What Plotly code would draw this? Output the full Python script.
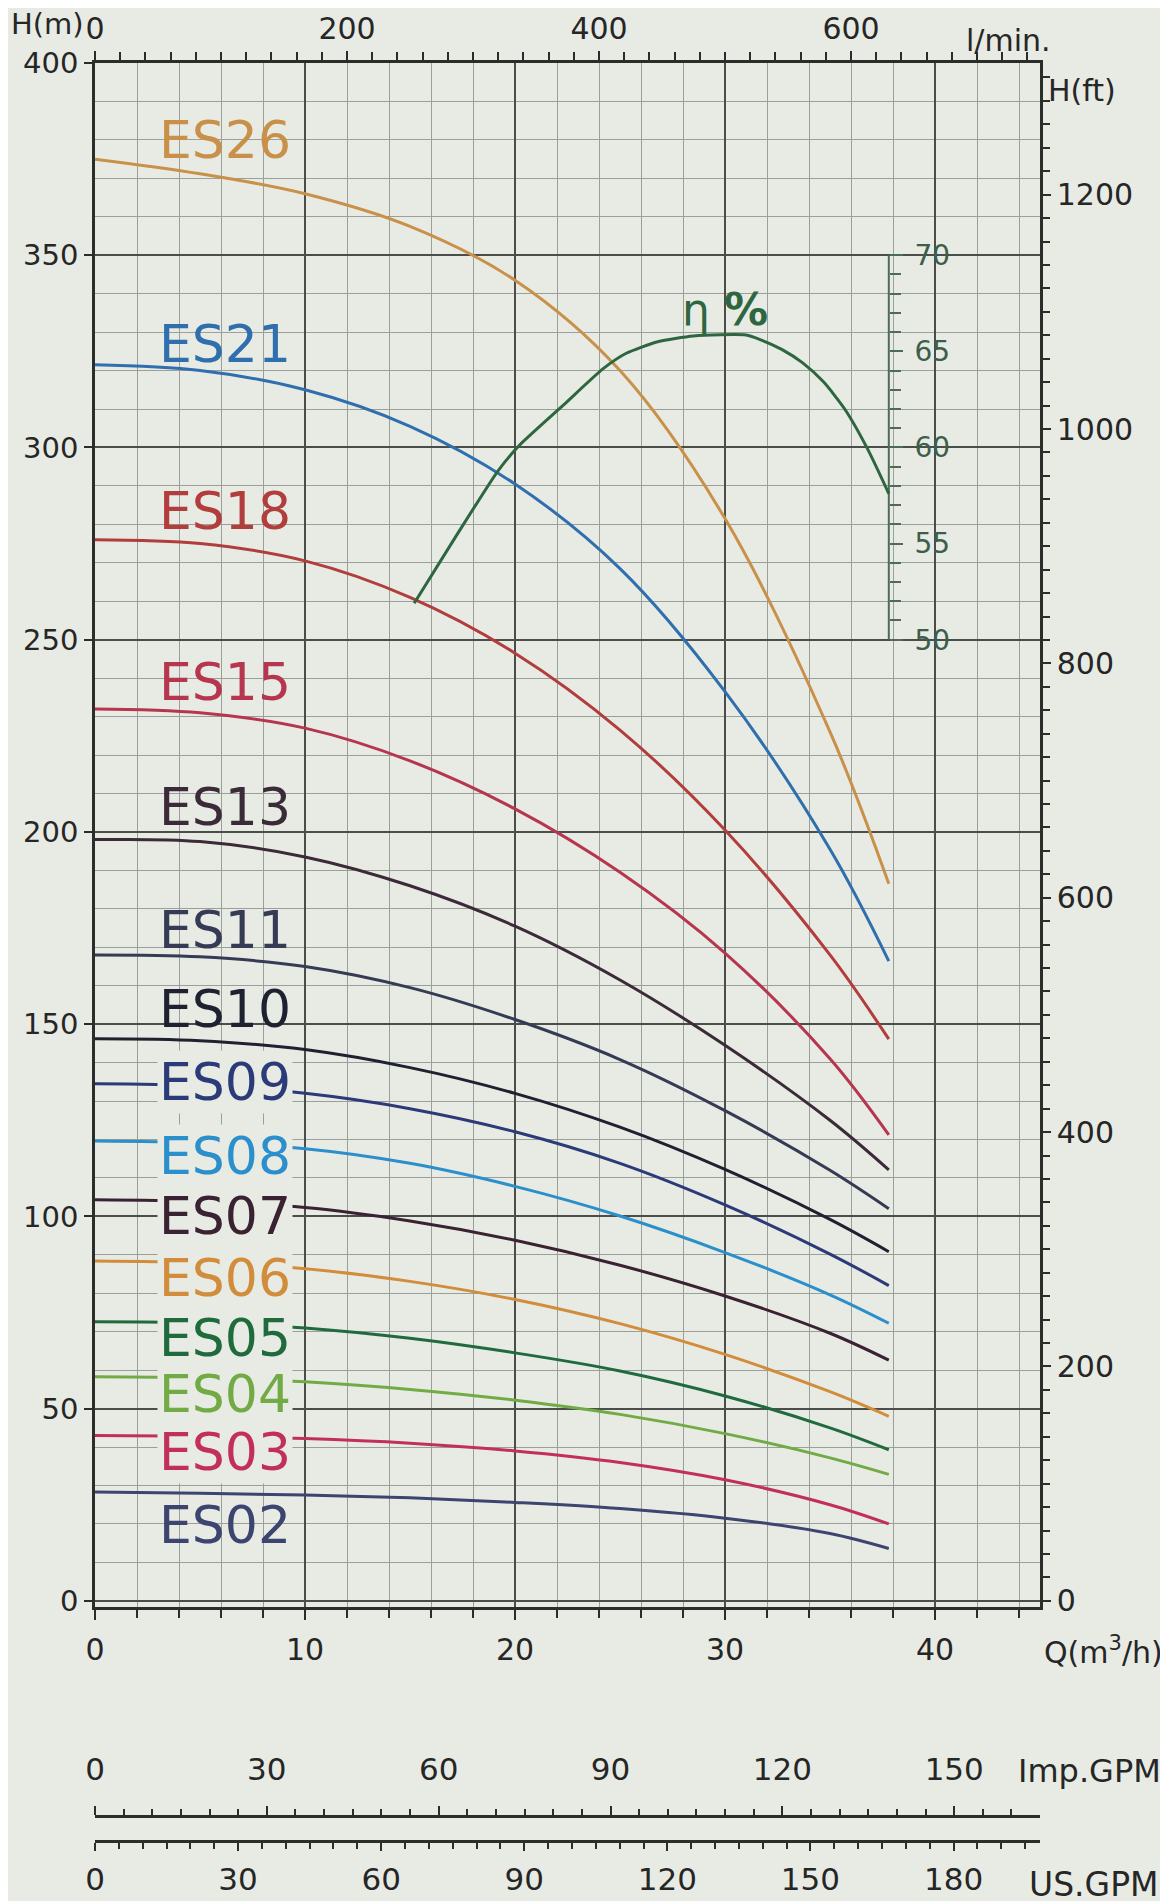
import plotly.graph_objects as go

# ---------------- data ----------------
Q = [0, 5, 10, 15, 20, 25, 30, 35, 37.8]        # m3/h

ES26 = [375.0, 371.2, 366.0, 357.5, 343.5, 320.0, 281.5, 226.0, 186.5]
ES21 = [321.5, 320.0, 315.0, 305.5, 290.5, 268.5, 236.5, 195.5, 166.4]
ES18 = [276.0, 275.0, 270.5, 261.0, 246.5, 226.5, 200.5, 168.0, 146.1]
ES15 = [232.0, 231.0, 227.0, 218.5, 206.0, 189.5, 168.5, 141.0, 121.2]
ES13 = [198.0, 197.5, 193.5, 186.0, 175.5, 161.5, 144.5, 125.0, 112.1]
ES11 = [168.0, 167.5, 165.0, 159.5, 151.2, 140.8, 127.5, 112.0, 102.0]
ES10 = [146.2, 145.7, 143.4, 138.7, 132.0, 123.2, 112.2, 99.2, 90.8]
ES09 = [134.5, 134.0, 132.0, 128.0, 122.0, 113.8, 103.0, 90.2, 82.0]
ES08 = [119.6, 119.1, 117.6, 113.8, 107.8, 100.1, 90.6, 79.6, 72.2]
ES07 = [104.3, 103.8, 102.3, 98.8, 93.8, 87.3, 79.3, 69.6, 62.6]
ES06 = [88.4, 87.9, 86.4, 83.1, 78.4, 72.1, 64.1, 54.4, 48.0]
ES05 = [72.6, 72.3, 71.0, 68.3, 64.5, 59.8, 53.3, 45.0, 39.3]
ES04 = [58.3, 58.0, 57.0, 55.0, 52.2, 48.5, 43.5, 37.2, 32.9]
ES03 = [43.0, 42.8, 42.2, 41.0, 39.0, 36.0, 31.5, 25.0, 20.0]
ES02 = [28.3, 28.0, 27.5, 26.8, 25.6, 24.0, 21.5, 17.5, 13.6]

MODELS = ["ES26", "ES21", "ES18", "ES15", "ES13", "ES11", "ES10", "ES09",
          "ES08", "ES07", "ES06", "ES05", "ES04", "ES03", "ES02"]
CURVES = [ES26, ES21, ES18, ES15, ES13, ES11, ES10, ES09,
          ES08, ES07, ES06, ES05, ES04, ES03, ES02]
COLORS = ["#c9904a", "#2f6fae", "#b13d3d", "#b7364f", "#3b2a38", "#363b55",
          "#1e2130", "#2b3a78", "#2b8fcb", "#3a2232", "#d18c3c", "#1f6b3d",
          "#72ab45", "#c2305a", "#3c4470"]
LABEL_Q = 6.2
LABEL_H = [380, 327, 283.5, 239, 206.6, 174.6, 154, 135,
           115.7, 100, 83.9, 68.3, 53.9, 38.8, 19.8]
LABEL_BOXED = [False, False, False, False, False, False, False, True,
               True, True, True, True, True, True, False]

# efficiency curve
ETA_Q = [15.2, 17.2, 19.2, 20.2, 22.3, 24.2, 25.3, 26.8, 28.5, 31.0, 31.7,
         32.7, 33.7, 34.7, 35.7, 36.8, 37.8]
ETA = [51.9, 55.4, 58.8, 60.1, 62.2, 64.1, 64.9, 65.5, 65.8, 65.85, 65.6,
       65.1, 64.4, 63.4, 62.0, 59.9, 57.6]
ETA_TICKS = [50, 55, 60, 65, 70]
ETA_MINOR = list(range(50, 71))
ETA_AXIS_Q = 37.8

# axis ranges
Q_MAX = 45.0
H_MIN, H_MAX = -1.6, 400.0
LMIN_MAX = Q_MAX * 1000 / 60            # l/min
FT_PER_M = 1 / 0.3048
IMP_MAX = Q_MAX * 1000 / 60 / 4.54609    # Imp.GPM
US_MAX = Q_MAX * 264.172 / 60            # US.GPM

# ---------------- styling ----------------
BG = "#e8ebe4"
AX = "#2b2d2b"
MAJ = "#4a4d4a"
MIN = "#9aa099"
TXT = "#262626"
ETA_C = "#2d6641"
ETA_AX = "#4d6b58"
FONT = "DejaVu Sans, Verdana, sans-serif"
LFONT = "DejaVu Sans, Verdana, sans-serif"

OFF = 8                     # page offset of the figure in the browser
W, H = 1168, 1901
ML, MT, MB = 95 - OFF, 63 - OFF, 0
MR = W - (1040 - OFF)
PW, PH = W - ML - MR, H - MT - MB
Y0 = (H - MB - (1607 - OFF)) / PH


def px_x(px):
    return (px - OFF - ML) / PW


def px_y(py):
    return (H - MB - (py - OFF)) / PH


fig = go.Figure()

for name, ys, col in zip(MODELS, CURVES, COLORS):
    fig.add_trace(go.Scatter(
        x=Q, y=ys, mode="lines", name=name,
        line=dict(color=col, width=3, shape="spline", smoothing=1.0),
        hoverinfo="skip", xaxis="x", yaxis="y"))

# efficiency axis line (from its own tick range) and curve
fig.add_trace(go.Scatter(
    x=[ETA_AXIS_Q, ETA_AXIS_Q], y=[ETA_TICKS[0], ETA_TICKS[-1]], mode="lines",
    line=dict(color=ETA_AX, width=2), hoverinfo="skip", xaxis="x", yaxis="y3"))
fig.add_trace(go.Scatter(
    x=ETA_Q, y=ETA, mode="lines", name="eta",
    line=dict(color=ETA_C, width=3, shape="spline", smoothing=0.6),
    hoverinfo="skip", xaxis="x", yaxis="y3"))

# invisible helpers so the secondary scales are drawn
for xa, ya, xr, yr in [("x2", "y", [0, LMIN_MAX], [0, 0]),
                       ("x", "y2", [0, 0], [0, H_MAX * FT_PER_M]),
                       ("x3", "y", [0, IMP_MAX], [0, 0]),
                       ("x4", "y", [0, US_MAX], [0, 0])]:
    fig.add_trace(go.Scatter(x=xr, y=yr, mode="lines", line=dict(width=0),
                             opacity=0, hoverinfo="skip", xaxis=xa, yaxis=ya))


def tf(size, color=TXT):
    return dict(family=FONT, size=size, color=color)


fig.update_layout(
    template="none",
    width=W, height=H,
    margin=dict(l=ML, r=MR, t=MT, b=MB, autoexpand=False),
    paper_bgcolor=BG, plot_bgcolor=BG,
    showlegend=False,
    font=dict(family=FONT, color=TXT),
    xaxis=dict(domain=[0, 1], range=[0, Q_MAX], tickmode="linear", tick0=0, dtick=10,
               ticks="outside", ticklen=10, tickwidth=2, tickcolor=AX,
               showline=True, linecolor=AX, linewidth=2.5,
               showgrid=True, gridcolor=MAJ, gridwidth=1.6, zeroline=False,
               minor=dict(tick0=0, dtick=2, ticks="outside", ticklen=8, tickwidth=1.5,
                          tickcolor=AX, showgrid=True, gridcolor=MIN, gridwidth=1),
               tickfont=tf(30), ticklabelstandoff=4, anchor="y", automargin=False),
    yaxis=dict(domain=[Y0, 1], range=[H_MIN, H_MAX], tickmode="linear", tick0=0,
               dtick=50, ticks="outside", ticklen=8, tickwidth=2, tickcolor=AX,
               showline=True, linecolor=AX, linewidth=2.5,
               showgrid=True, gridcolor=MAJ, gridwidth=1.6, zeroline=False,
               minor=dict(tick0=0, dtick=10, showgrid=True, gridcolor=MIN, gridwidth=1),
               tickfont=tf(29), ticklabelstandoff=0, anchor="x", automargin=False),
    xaxis2=dict(overlaying="x", side="top", range=[0, LMIN_MAX], tickmode="linear",
                tick0=0, dtick=200, ticks="outside", ticklen=9, tickwidth=2,
                tickcolor=AX, showline=True, linecolor=AX, linewidth=2.5,
                minor=dict(tick0=0, dtick=20, ticks="outside", ticklen=8,
                           tickwidth=1.5, tickcolor=AX),
                showgrid=False, zeroline=False, tickfont=tf(30),
                ticklabelstandoff=0, anchor="y", automargin=False),
    yaxis2=dict(overlaying="y", side="right",
                range=[H_MIN * FT_PER_M, H_MAX * FT_PER_M], tickmode="linear",
                tick0=0, dtick=200, ticks="outside", ticklen=8, tickwidth=2,
                tickcolor=AX, showline=True, linecolor=AX, linewidth=2.5,
                minor=dict(tick0=0, dtick=20, ticks="outside", ticklen=7,
                           tickwidth=1.5, tickcolor=AX),
                showgrid=False, zeroline=False, tickfont=tf(30),
                ticklabelstandoff=0, anchor="x", automargin=False),
    yaxis3=dict(overlaying="y", anchor="free", position=ETA_AXIS_Q / Q_MAX,
                side="right", range=[H_MIN / 5, H_MAX / 5], tickmode="array",
                tickvals=ETA_TICKS, ticks="outside", ticklen=13, tickwidth=2,
                tickcolor=ETA_AX, showline=False, showgrid=False, zeroline=False,
                minor=dict(tickmode="array", tickvals=ETA_MINOR, ticks="outside",
                           ticklen=11, tickwidth=1.5, tickcolor=ETA_AX),
                tickfont=tf(28, "#3d5e4a"), ticklabelstandoff=6, automargin=False),
    xaxis3=dict(overlaying="x", anchor="free", position=px_y(1816), side="top",
                range=[0, IMP_MAX], tickmode="linear", tick0=0, dtick=30,
                ticks="outside", ticklen=9, tickwidth=2, tickcolor=AX,
                minor=dict(tick0=0, dtick=5, ticks="outside", ticklen=6,
                           tickwidth=1.5, tickcolor=AX),
                showline=True, linecolor=AX, linewidth=2.5, showgrid=False,
                zeroline=False, tickfont=tf(31), ticklabelstandoff=14,
                automargin=False),
    xaxis4=dict(overlaying="x", anchor="free", position=px_y(1841), side="bottom",
                range=[0, US_MAX], tickmode="linear", tick0=0, dtick=30,
                ticks="outside", ticklen=8, tickwidth=2, tickcolor=AX,
                minor=dict(tick0=0, dtick=5, ticks="outside", ticklen=6,
                           tickwidth=1.5, tickcolor=AX),
                showline=True, linecolor=AX, linewidth=2.5, showgrid=False,
                zeroline=False, tickfont=tf(31), ticklabelstandoff=2,
                automargin=False),
)

# curve labels
for name, hy, col, boxed in zip(MODELS, LABEL_H, COLORS, LABEL_BOXED):
    fig.add_annotation(x=LABEL_Q, y=hy, xref="x", yref="y", text=name,
                       showarrow=False, xanchor="center", yanchor="middle",
                       font=dict(family=LFONT, size=52, color=col),
                       bgcolor=BG if boxed else None, borderpad=1)

# efficiency label
fig.add_annotation(x=30.0, y=336, xref="x", yref="y",
                   text="η <b>%</b>", showarrow=False,
                   font=dict(family=LFONT, size=44, color=ETA_C))

# unit labels
units = [("H(m)", px_x(47), px_y(24), "center", 29),
         ("l/min.", px_x(964), px_y(40), "left", 30),
         ("H(ft)", px_x(1046), px_y(91), "left", 30),
         ("Q(m<sup>3</sup>/h)", px_x(1042), px_y(1650), "left", 30),
         ("Imp.GPM", px_x(1016), px_y(1771), "left", 32),
         ("US.GPM", px_x(1027), px_y(1884), "left", 33)]
for txt, xx, yy, anc, sz in units:
    fig.add_annotation(x=xx, y=yy, xref="paper", yref="paper", text=txt,
                       showarrow=False, xanchor=anc, yanchor="middle",
                       font=tf(sz))

fig.write_html("out.html")
